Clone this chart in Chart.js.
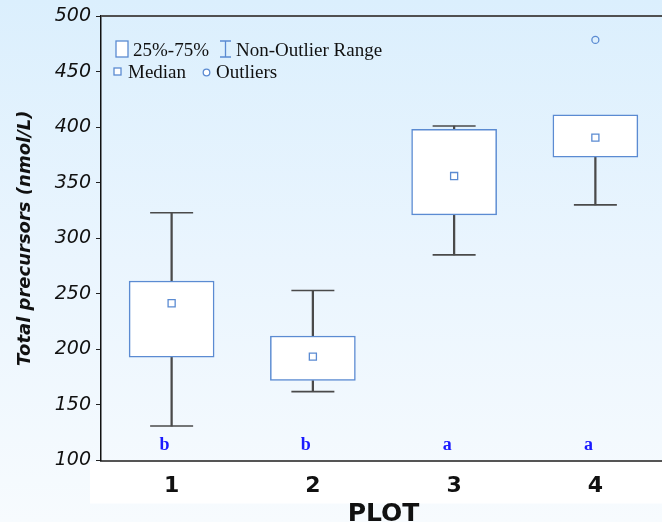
<!DOCTYPE html>
<html lang="en">
  <head>
    <meta charset="UTF-8" />
    <title>Total precursors by plot</title>
    <style>
      html, body { margin: 0; padding: 0; overflow: hidden; }
      body {
        width: 662px;
        height: 522px;
        background: linear-gradient(to bottom, #dbeffd 0%, #eaf5fe 50%, #f7fbfe 100%);
      }
      #wrap { width: 666px; height: 522px; }
    </style>
  </head>
  <body>
    <div id="wrap"><canvas id="chart"></canvas></div>
    <script src="https://cdn.jsdelivr.net/npm/chart.js"></script>
    <script>
      // values (nmol/L)
      const plots = ['1', '2', '3', '4'];
      const whiskerLow = [131, 162, 285, 330];
      const whiskerHigh = [323, 253, 401, 411];
      const boxLow = [193, 172, 321, 373];
      const boxHigh = [261.5, 212, 398, 411];
      const medians = [241.5, 193.5, 356, 390.5];
      const outliers = [null, null, null, 478.5];
      const groupLetters = ['b', 'b', 'a', 'a'];
      const yTicks = [100, 150, 200, 250, 300, 350, 400, 450, 500];

      const boxBlue = '#5b8bd2';
      const whiskerGrey = '#4a4a4a';

      // whisker pieces and caps only where the whisker leaves the box
      const lowerWhisker = whiskerLow.map((v, i) => (v < boxLow[i] ? [v, boxLow[i]] : null));
      const upperWhisker = whiskerHigh.map((v, i) => (v > boxHigh[i] ? [boxHigh[i], v] : null));
      const capHigh = whiskerHigh.map((v, i) => (v > boxHigh[i] ? v : null));
      const capLow = whiskerLow.map((v, i) => (v < boxLow[i] ? v : null));

      const extras = {
        id: 'extras',
        beforeDraw(chart) {
          const ctx = chart.ctx;
          const a = chart.chartArea;
          ctx.save();
          ctx.fillStyle = '#ffffff';
          ctx.fillRect(a.left - 11, a.bottom + 1, chart.width, 42);
          ctx.restore();
        },
        afterDraw(chart) {
          const ctx = chart.ctx;
          const a = chart.chartArea;
          const x = chart.scales.x;
          const y = chart.scales.y;
          ctx.save();
          // top frame line
          ctx.strokeStyle = '#505050';
          ctx.lineWidth = 2;
          ctx.beginPath();
          ctx.moveTo(a.left, a.top);
          ctx.lineTo(chart.width, a.top);
          ctx.stroke();

          // group letters
          ctx.fillStyle = '#1a1aff';
          ctx.font = 'bold 18px "Liberation Serif"';
          ctx.textAlign = 'center';
          ctx.textBaseline = 'middle';
          groupLetters.forEach((t, i) => {
            ctx.fillText(t, x.getPixelForValue(i) - 7, y.getPixelForValue(114));
          });

          // legend
          const lx = a.left + 15;
          const ly = a.top + 40;
          ctx.font = '19px "Liberation Serif"';
          ctx.textAlign = 'left';
          ctx.textBaseline = 'alphabetic';
          ctx.strokeStyle = boxBlue;
          ctx.lineWidth = 1.3;
          ctx.fillStyle = '#fff';
          ctx.fillRect(lx, ly - 15, 12, 16);
          ctx.strokeRect(lx, ly - 15, 12, 16);
          ctx.fillStyle = '#111';
          ctx.fillText('25%-75%', lx + 17, ly);
          const wx = lx + 104;
          ctx.beginPath();
          ctx.moveTo(wx, ly - 15); ctx.lineTo(wx + 11, ly - 15);
          ctx.moveTo(wx + 5.5, ly - 15); ctx.lineTo(wx + 5.5, ly + 1);
          ctx.moveTo(wx, ly + 1); ctx.lineTo(wx + 11, ly + 1);
          ctx.stroke();
          ctx.fillText('Non-Outlier Range', wx + 16, ly);

          const ly2 = ly + 22;
          ctx.fillStyle = '#fff';
          ctx.fillRect(lx - 2, ly2 - 10, 7, 7);
          ctx.strokeRect(lx - 2, ly2 - 10, 7, 7);
          ctx.fillStyle = '#111';
          ctx.fillText('Median', lx + 12, ly2);
          ctx.beginPath();
          ctx.arc(lx + 90.5, ly2 - 5.5, 3.3, 0, Math.PI * 2);
          ctx.fillStyle = '#fff';
          ctx.fill();
          ctx.stroke();
          ctx.fillStyle = '#111';
          ctx.fillText('Outliers', lx + 100, ly2);
          ctx.restore();
        }
      };

      const whiskerBar = {
        backgroundColor: whiskerGrey,
        borderWidth: 0,
        barThickness: 1.6,
        grouped: false,
        order: 3
      };
      const capPoints = {
        type: 'line',
        showLine: false,
        pointStyle: 'line',
        pointRadius: 21.5,
        pointBorderColor: whiskerGrey,
        pointBorderWidth: 1.6,
        order: 1
      };

      const config = {
        type: 'bar',
        data: {
          labels: plots,
          datasets: [
            Object.assign({ label: 'whisker low', data: lowerWhisker }, whiskerBar),
            Object.assign({ label: 'whisker high', data: upperWhisker }, whiskerBar),
            {
              label: '25%-75%',
              data: boxLow.map((v, i) => [v, boxHigh[i]]),
              backgroundColor: '#ffffff',
              borderColor: boxBlue,
              borderWidth: 1.5,
              borderSkipped: false,
              barThickness: 85,
              grouped: false,
              order: 2
            },
            Object.assign({ label: 'cap high', data: capHigh }, capPoints),
            Object.assign({ label: 'cap low', data: capLow }, capPoints),
            {
              type: 'line',
              label: 'Median',
              data: medians,
              showLine: false,
              pointStyle: 'rect',
              pointRadius: 5,
              pointBackgroundColor: '#ffffff',
              pointBorderColor: boxBlue,
              pointBorderWidth: 1.3,
              order: 0
            },
            {
              type: 'line',
              label: 'Outliers',
              data: outliers,
              showLine: false,
              pointStyle: 'circle',
              pointRadius: 3.5,
              pointBackgroundColor: 'rgba(255,255,255,0)',
              pointBorderColor: boxBlue,
              pointBorderWidth: 1.3,
              order: 0
            }
          ]
        },
        options: {
          responsive: true,
          maintainAspectRatio: false,
          animation: false,
          layout: { autoPadding: false, padding: { top: 16, right: 0, bottom: 0, left: 1 } },
          plugins: { legend: { display: false }, tooltip: { enabled: false } },
          scales: {
            x: {
              offset: true,
              afterFit: s => { s.height = 61.5; s.paddingLeft = 0; s.paddingRight = 0; },
              grid: { display: false, drawTicks: false },
              border: { display: true, color: '#555', width: 2 },
              ticks: {
                color: '#111',
                padding: 13,
                font: { family: 'DejaVu Sans', size: 22, weight: 'bold' }
              },
              title: {
                display: true,
                text: 'PLOT',
                color: '#111',
                padding: { top: 0, bottom: -2 },
                font: { family: 'DejaVu Sans', size: 25, weight: 'bold', lineHeight: 0.8 }
              }
            },
            y: {
              min: yTicks[0],
              max: yTicks[yTicks.length - 1],
              afterFit: s => { s.width = 100; s.paddingTop = 0; s.paddingBottom = 0; },
              afterBuildTicks: s => { s.ticks = yTicks.map(v => ({ value: v })); },
              grid: { drawOnChartArea: false, drawTicks: true, tickLength: 5, color: '#222' },
              border: { display: true, color: '#111', width: 1.5 },
              ticks: {
                color: '#111',
                padding: 5,
                font: { family: 'DejaVu Sans', size: 19, style: 'italic' }
              },
              title: {
                display: true,
                text: 'Total precursors (nmol/L)',
                color: '#111',
                padding: { top: 14, bottom: 0 },
                font: { family: 'DejaVu Sans', size: 18, weight: 'bold', style: 'italic' }
              }
            }
          }
        },
        plugins: [extras]
      };

      new Chart(document.getElementById('chart'), config);
    </script>
  </body>
</html>
